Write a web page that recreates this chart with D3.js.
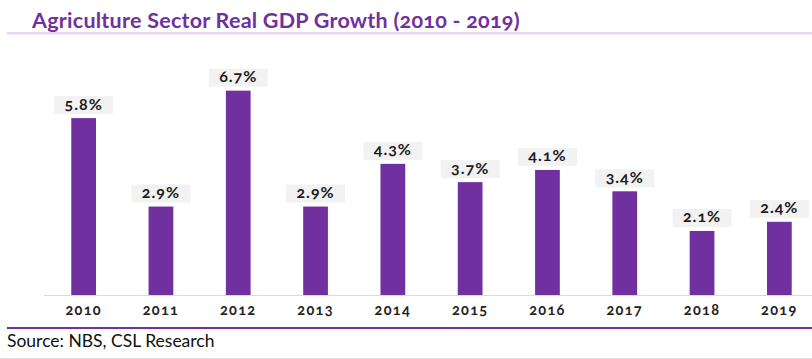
<!DOCTYPE html>
<html><head><meta charset="utf-8">
<script src="https://cdn.jsdelivr.net/npm/d3@7"></script>
<style>
body{margin:0;background:#fff;}
svg{display:block;font-family:Lato,"Open Sans",sans-serif;}
.on{font-variant-numeric:oldstyle-nums;font-feature-settings:"onum" 1;}
</style></head><body>
<svg id="c" width="812" height="359"></svg>
<script>
const years = ["2010","2011","2012","2013","2014","2015","2016","2017","2018","2019"];
const growth = [5.8,2.9,6.7,2.9,4.3,3.7,4.1,3.4,2.1,2.4];
const title = "Agriculture Sector Real GDP Growth (2010 - 2019)";
const source = "Source: NBS, CSL Research";

const svg = d3.select("#c");
const purple = "#7030A0";

// title
svg.append("text").attr("class","on").attr("x",32).attr("y",28).attr("fill",purple)
  .attr("font-size",21.5).attr("font-weight",700).style("letter-spacing","0.25px").text(title);
svg.append("rect").attr("x",7).attr("y",32).attr("width",805).attr("height",2.5).attr("fill","#E6D6F0");

const x = d3.scaleBand().domain(years).range([45,818]).paddingInner(0.68).paddingOuter(0.34);
const y = d3.scaleLinear().domain([0,7]).range([295,81.5]);

// baseline
svg.append("line").attr("x1",44).attr("x2",812).attr("y1",295.5).attr("y2",295.5)
  .attr("stroke","#D9D9D9").attr("stroke-width",1);

const g = svg.append("g");
g.selectAll("rect.bar").data(years).join("rect").attr("class","bar")
  .attr("x",d=>x(d)).attr("width",x.bandwidth())
  .attr("y",(d,i)=>y(growth[i])).attr("height",(d,i)=>y(0)-y(growth[i]))
  .attr("fill",purple);

// value labels
const lab = g.selectAll("g.lab").data(years).join("g").attr("class","lab")
  .attr("transform",(d,i)=>`translate(${x(d)+x.bandwidth()/2},${y(growth[i])-4})`);
lab.append("rect").attr("x",-29.5).attr("y",-18).attr("width",59).attr("height",18).attr("fill","#F2F2F2");
lab.append("text").attr("class","on").attr("text-anchor","middle").attr("y",-4.5).attr("font-size",16)
  .attr("font-weight",700).attr("fill","#1a1a1a").style("letter-spacing","1px")
  .text((d,i)=>growth[i].toFixed(1)+"%");

// x axis labels
const ax = svg.append("g").attr("transform","translate(0,295)")
  .call(d3.axisBottom(x).tickSize(0).tickPadding(10));
ax.select(".domain").remove();
ax.selectAll("text").attr("class","on").attr("font-size",14.5).attr("font-weight",700).attr("fill","#222")
  .attr("font-family","Lato,sans-serif").style("letter-spacing","1.3px");

// purple rule
svg.append("rect").attr("x",7).attr("y",327).attr("width",805).attr("height",2).attr("fill",purple);
// source
svg.append("text").attr("x",7).attr("y",347).attr("font-size",17.5).attr("fill","#111").text(source);
svg.append("line").attr("x1",0).attr("x2",812).attr("y1",358.5).attr("y2",358.5).attr("stroke","#E0E0E0");
</script></body></html>
